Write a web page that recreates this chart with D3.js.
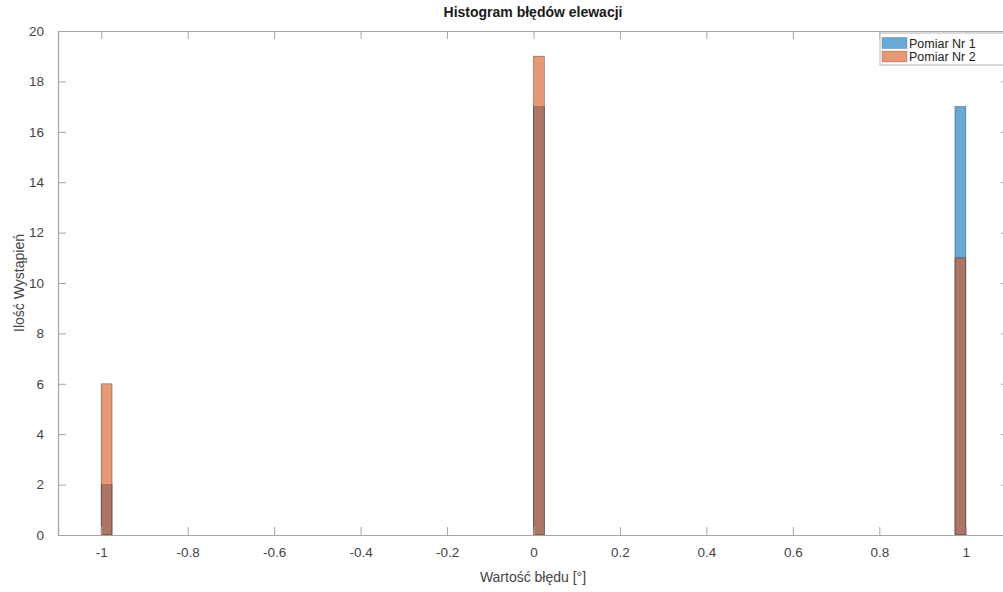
<!DOCTYPE html>
<html>
<head>
<meta charset="utf-8">
<script src="https://cdn.jsdelivr.net/npm/d3@7"></script>
<style>
  html, body { margin: 0; padding: 0; background: #fff; overflow: hidden; }
  svg { display: block; font-family: "Liberation Sans", Arial, Helvetica, sans-serif; }
</style>
</head>
<body>
<svg id="chart" width="1003" height="592"></svg>
<script>
// Histogram bins (left edges) and shared bin width
const binStarts = [-1, 0, 0.975];
const binWidth = 0.025;
// Counts per bin for each measurement series
const seriesNames = ["Pomiar Nr 1", "Pomiar Nr 2"];
const pomiar1 = [2, 17, 17];
const pomiar2 = [6, 19, 11];
const seriesColors = ["#0072BD", "#D95319"];
// Axis ticks
const xTicks = [-1, -0.8, -0.6, -0.4, -0.2, 0, 0.2, 0.4, 0.6, 0.8, 1];
const yTicks = [0, 2, 4, 6, 8, 10, 12, 14, 16, 18, 20];

const svg = d3.select("#chart");
const plotLeft = 58, plotRight = 1009, plotTop = 31, plotBottom = 535;

const x = d3.scaleLinear().domain([-1.1, 1.1]).range([plotLeft, plotRight]);
const y = d3.scaleLinear().domain([0, 20]).range([plotBottom, plotTop]);

const axisColor = "#a6a6a6";
const textColor = "#444";

// Bars: series 1 first, series 2 drawn on top, both semi-transparent
const series = [pomiar1, pomiar2];
series.forEach((vals, si) => {
  svg.append("g").selectAll("rect")
    .data(vals.map((v, i) => ({ x0: binStarts[i], v })))
    .join("rect")
    .attr("x", d => x(d.x0))
    .attr("width", d => x(d.x0 + binWidth) - x(d.x0))
    .attr("y", d => y(d.v))
    .attr("height", d => y(0) - y(d.v))
    .attr("fill", seriesColors[si])
    .attr("fill-opacity", 0.6)
    .attr("stroke", "#000")
    .attr("stroke-opacity", 0.45)
    .attr("stroke-width", 0.7);
});

// Axes (box style with inward ticks)
const xAxis = d3.axisBottom(x).tickValues(xTicks).tickSize(-8).tickPadding(12)
  .tickFormat(d => String(d));
const gx = svg.append("g").attr("transform", `translate(0,${plotBottom})`).call(xAxis);
const yAxis = d3.axisLeft(y).tickValues(yTicks).tickSize(-8).tickPadding(14);
const gy = svg.append("g").attr("transform", `translate(${plotLeft},0)`).call(yAxis);
const yAxisR = d3.axisRight(y).tickValues(yTicks).tickSize(-8).tickFormat("");
const gyr = svg.append("g").attr("transform", `translate(${plotRight},0)`).call(yAxisR);
const xAxisT = d3.axisTop(x).tickValues(xTicks).tickSize(-8).tickFormat("");
const gxt = svg.append("g").attr("transform", `translate(0,${plotTop})`).call(xAxisT);

[gx, gy, gyr, gxt].forEach(g => {
  g.select(".domain").attr("stroke", axisColor).attr("stroke-width", 1.2);
  g.selectAll(".tick line").attr("stroke", axisColor).attr("stroke-width", 1);
  g.selectAll(".tick text").attr("fill", textColor).attr("font-size", 13.5)
    .attr("font-family", "\"Liberation Sans\", Arial, sans-serif");
});

// Title
svg.append("text")
  .attr("x", 533).attr("y", 17)
  .attr("text-anchor", "middle")
  .attr("font-size", 14).attr("font-weight", "bold").attr("fill", "#1a1a1a")
  .text("Histogram błędów elewacji");

// Axis labels
svg.append("text")
  .attr("x", 533).attr("y", 582)
  .attr("text-anchor", "middle")
  .attr("font-size", 14).attr("fill", textColor)
  .text("Wartość błędu [°]");

svg.append("text")
  .attr("transform", `translate(24,${(plotTop + plotBottom) / 2}) rotate(-90)`)
  .attr("text-anchor", "middle")
  .attr("font-size", 14).attr("fill", textColor)
  .text("Ilość Wystąpień");

// Legend
const lg = svg.append("g").attr("transform", "translate(880,33)");
lg.append("rect").attr("x", 0).attr("y", 0).attr("width", 130).attr("height", 32)
  .attr("fill", "#fff").attr("stroke", "#b5b5b5").attr("stroke-width", 1);
seriesNames.forEach((name, i) => {
  const row = lg.append("g").attr("transform", `translate(0,${4 + i * 13.5})`);
  row.append("rect").attr("x", 2).attr("y", 0.5).attr("width", 25).attr("height", 11)
    .attr("fill", seriesColors[i]).attr("fill-opacity", 0.6)
    .attr("stroke", "#000").attr("stroke-opacity", 0.3).attr("stroke-width", 0.6);
  row.append("text").attr("x", 29).attr("y", 10.5)
    .attr("font-size", 12.5).attr("fill", "#222")
    .text(name);
});
</script>
</body>
</html>
